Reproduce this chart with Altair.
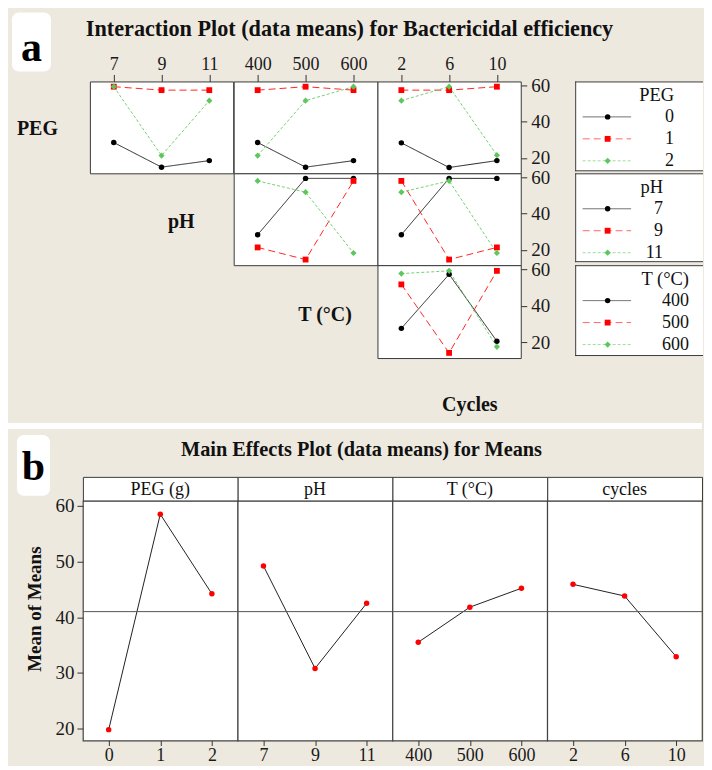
import altair as alt
import pandas as pd

# ---------------- data ----------------
peg_levels = [0, 1, 2]
ph_levels = [7, 9, 11]
t_levels = [400, 500, 600]
cycle_levels = [2, 6, 10]

# interaction plot: means of the row factor (lines) at each level of the column factor (x)
peg_vs_ph = {"0": [28.5, 14.9, 18.5], "1": [59.3, 57.4, 57.4], "2": [59.3, 21.3, 51.6]}
peg_vs_t = {"0": [28.5, 14.9, 18.5], "1": [57.4, 59.3, 57.4], "2": [21.3, 51.6, 59.3]}
peg_vs_cycles = {"0": [28.3, 14.7, 18.5], "1": [57.4, 57.4, 59.3], "2": [51.6, 59.3, 21.5]}
ph_vs_t = {"7": [28.3, 59.4, 59.4], "9": [21.3, 14.6, 58.0], "11": [58.0, 51.8, 18.2]}
ph_vs_cycles = {"7": [28.3, 59.4, 59.4], "9": [58.0, 14.6, 21.3], "11": [51.8, 58.0, 18.2]}
t_vs_cycles = {"400": [27.7, 57.2, 20.7], "500": [51.7, 14.3, 59.1], "600": [57.6, 59.1, 17.6]}

# main effects plot
main_factors = ["PEG (g)", "pH", "T (°C)", "cycles"]
peg_means = [19.8, 58.5, 44.2]
ph_means = [49.2, 30.8, 42.5]
t_means = [35.5, 41.8, 45.2]
cycle_means = [45.9, 43.8, 32.9]
grand_mean = [41.0]

title_a = "Interaction Plot (data means) for Bactericidal efficiency"
title_b = "Main Effects Plot (data means) for Means"
row_names = ["PEG", "pH", "T (°C)", "Cycles"]
legend_titles = ["PEG", "pH", "T (°C)"]

# ---------------- style ----------------
SERIF = "Liberation Serif"
BEIGE = "#EEE9DF"
BOX = "#3a3a3a"
MARK_COLORS = ["#000000", "#ff0000", "#5cc85c"]
DASHES = [[1, 0], [7, 4], [3, 2]]
SHAPES = ["circle", "square", "diamond"]
SIZES = [30, 38, 46]
A_DOMAIN = [11.5, 62.2]
B_DOMAIN = [17.85, 60.9]
one = pd.DataFrame({"_": [0]})


def cell_view():
    return alt.ViewBackground(fill="white", stroke=BOX, strokeWidth=1)


def blank(w, h, label="", dx=0, dy=0, solid=False):
    ch = alt.Chart(pd.DataFrame({"t": [label]})).mark_text(
        fontSize=20, fontWeight="bold", color="#111"
    ).encode(x=alt.value(dx), y=alt.value(dy if label else 30), text="t:N")
    if solid:
        return ch.properties(width=w, height=h, view=alt.ViewBackground(fill=BEIGE, stroke=None))
    return ch.properties(width=w, height=h)


def corner(w, h, top, box, letter_xy, title, title_xy, title_size, label="", label_xy=(0, 0)):
    """Top-left cell of a panel: carries the panel letter, its white box and the panel title."""
    layers = [
        alt.Chart(one).mark_rect(color=BEIGE).encode(
            x=alt.value(0), x2=alt.value(w), y=alt.value(-top), y2=alt.value(0)),
        alt.Chart(one).mark_rect(color="white", cornerRadius=7).encode(
            x=alt.value(box[0]), x2=alt.value(box[1]), y=alt.value(box[2]), y2=alt.value(box[3])),
        alt.Chart(one).mark_text(fontSize=42, fontWeight="bold", baseline="alphabetic", color="#000").encode(
            x=alt.value(letter_xy[0]), y=alt.value(letter_xy[1]), text=alt.value(letter_xy[2])),
        alt.Chart(one).mark_text(fontSize=title_size, fontWeight="bold", color="#111").encode(
            x=alt.value(title_xy[0]), y=alt.value(title_xy[1]), text=alt.value(title)),
    ]
    if label:
        layers.append(alt.Chart(one).mark_text(fontSize=20, fontWeight="bold", color="#111").encode(
            x=alt.value(label_xy[0]), y=alt.value(label_xy[1]), text=alt.value(label)))
    return alt.layer(*layers).properties(width=w, height=h,
                                         view=alt.ViewBackground(fill=BEIGE, stroke=None))


def interaction_panel(table, x_levels, w, h, top_axis=False, right_axis=False):
    recs = []
    for k, key in enumerate(table.keys()):
        for xv, yv in zip(x_levels, table[key]):
            recs.append({"k": k, "x": xv, "y": yv})
    df = pd.DataFrame(recs)
    xax = alt.Axis(orient="top", title=None, labelAngle=0, tickSize=7, domain=False,
                   labelFontSize=18, labelPadding=1, grid=False) if top_axis else None
    yax = alt.Axis(orient="right", title=None, values=[20, 40, 60], tickSize=6, domain=False,
                   grid=False, labelFontSize=19, labelPadding=4) if right_axis else None
    x = alt.X("x:O", scale=alt.Scale(type="point", domain=x_levels, padding=0.5), axis=xax)
    y = alt.Y("y:Q", scale=alt.Scale(domain=A_DOMAIN, nice=False, zero=False), axis=yax)
    color = alt.Color("k:O", scale=alt.Scale(domain=[0, 1, 2], range=MARK_COLORS), legend=None)
    base = alt.Chart(df)
    lines = base.mark_line(strokeWidth=1, opacity=0.85).encode(
        x=x, y=y, color=color,
        strokeDash=alt.StrokeDash("k:O", scale=alt.Scale(domain=[0, 1, 2], range=DASHES), legend=None),
        detail="k:O")
    pts = base.mark_point(filled=True, opacity=1).encode(
        x=x, y=y, color=color,
        shape=alt.Shape("k:O", scale=alt.Scale(domain=[0, 1, 2], range=SHAPES), legend=None),
        size=alt.Size("k:O", scale=alt.Scale(domain=[0, 1, 2], range=SIZES), legend=None))
    return alt.layer(lines, pts).properties(width=w, height=h, view=cell_view())


def legend_box(title, labels, right_x, w, h):
    df = pd.DataFrame({"k": list(range(len(labels))), "label": labels})
    yenc = alt.Y("k:O", scale=alt.Scale(type="point", domain=[0, 1, 2], range=[35.5, 79.5], padding=0), axis=None)
    color = alt.Color("k:O", scale=alt.Scale(domain=[0, 1, 2], range=MARK_COLORS), legend=None)
    base = alt.Chart(df)
    # box open on the right: it runs off the edge of the figure, as in the original
    borders = [
        alt.Chart(one).mark_rule(color=BOX, strokeWidth=1).encode(
            x=alt.value(0.5), y=alt.value(0), y2=alt.value(h)),
        alt.Chart(one).mark_rule(color=BOX, strokeWidth=1).encode(
            y=alt.value(0.5), x=alt.value(0), x2=alt.value(w)),
        alt.Chart(one).mark_rule(color=BOX, strokeWidth=1).encode(
            y=alt.value(h - 0.5), x=alt.value(0), x2=alt.value(w)),
    ]
    rule = base.mark_rule(strokeWidth=1, opacity=0.6).encode(
        x=alt.value(7.5), x2=alt.value(56), y=yenc, color=color,
        strokeDash=alt.StrokeDash("k:O", scale=alt.Scale(domain=[0, 1, 2], range=DASHES), legend=None))
    pts = base.mark_point(filled=True, opacity=1).encode(
        x=alt.value(32.5), y=yenc, color=color,
        shape=alt.Shape("k:O", scale=alt.Scale(domain=[0, 1, 2], range=SHAPES), legend=None),
        size=alt.Size("k:O", scale=alt.Scale(domain=[0, 1, 2], range=SIZES), legend=None))
    txt = base.mark_text(align="right", fontSize=18, color="#111").encode(
        x=alt.value(right_x), y=yenc, text="label:N")
    ttl = alt.Chart(one).mark_text(align="right", fontSize=18.5, color="#111").encode(
        x=alt.value(right_x), y=alt.value(14), text=alt.value(title))
    return alt.layer(*borders, rule, pts, txt, ttl).properties(
        width=w, height=h, view=alt.ViewBackground(fill="white", stroke=None))


# ---------------- panel a ----------------
W0, W1, W2, W3, WG, WL = 82, 143.5, 144, 143.5, 54, 128
H1, H2, H3, H4 = 92, 92, 93, 62

cells_a = [
    corner(W0, H1, 73, (4, 43, -69, -10), (23.5, -20, "a"), title_a, (342, -53), 22.25,
           label=row_names[0], label_xy=(29.5, 48)),
    interaction_panel(peg_vs_ph, ph_levels, W1, H1, top_axis=True),
    interaction_panel(peg_vs_t, t_levels, W2, H1, top_axis=True),
    interaction_panel(peg_vs_cycles, cycle_levels, W3, H1, top_axis=True, right_axis=True),
    blank(WG, H1),
    legend_box(legend_titles[0], [str(v) for v in peg_levels], 99, WL, 90),

    blank(W0, H2, solid=True),
    blank(W1, H2, row_names[1], 91.5, 49),
    interaction_panel(ph_vs_t, t_levels, W2, H2),
    interaction_panel(ph_vs_cycles, cycle_levels, W3, H2, right_axis=True),
    blank(WG, H2),
    legend_box(legend_titles[1], [str(v) for v in ph_levels], 88, WL, 89),

    blank(W0, H3, solid=True),
    blank(W1, H3),
    blank(W2, H3, row_names[2], 91.5, 50),
    interaction_panel(t_vs_cycles, cycle_levels, W3, H3, right_axis=True),
    blank(WG, H3),
    legend_box(legend_titles[2], [str(v) for v in t_levels], 114, WL, 91),

    blank(W0, H4, solid=True),
    blank(W1, H4),
    blank(W2, H4),
    blank(W3, H4, row_names[3], 92.5, 47),
    blank(WG, H4),
    blank(WL, H4, solid=True),
]
grid_a = alt.concat(*cells_a, columns=6, spacing=0, bounds="flush").resolve_scale(
    x="independent", y="independent", color="independent",
    shape="independent", size="independent", strokeDash="independent")

separator = alt.Chart(pd.DataFrame({"t": [""]})).mark_text().encode(
    text="t:N", y=alt.value(3)).properties(
    width=695, height=6, view=alt.ViewBackground(fill="white", stroke=None))

# ---------------- panel b ----------------
PW, PH, SW, HB = 155, 240, 75, 24


def header_box(name):
    return alt.Chart(pd.DataFrame({"t": [name]})).mark_text(fontSize=18, color="#111").encode(
        x=alt.value(PW / 2), y=alt.value(HB / 2 + 1), text="t:N"
    ).properties(width=PW, height=HB, view=cell_view())


def main_panel(levels, means, first=False):
    df = pd.DataFrame({"x": levels, "y": means})
    x = alt.X("x:O", scale=alt.Scale(type="point", domain=levels, padding=0.5),
              axis=alt.Axis(title=None, labelAngle=0, tickSize=5, domain=False, grid=False,
                            labelFontSize=18, labelPadding=1))
    yax = alt.Axis(title="Mean of Means", values=[20, 30, 40, 50, 60], tickSize=6, domain=False,
                   grid=False, labelFontSize=19, labelPadding=3, titleFontSize=19,
                   titleFontWeight="bold", titlePadding=10, titleY=108) if first else None
    y = alt.Y("y:Q", scale=alt.Scale(domain=B_DOMAIN, nice=False, zero=False), axis=yax)
    line = alt.Chart(df).mark_line(color="#222", strokeWidth=1).encode(x=x, y=y)
    ref = alt.Chart(pd.DataFrame({"y": grand_mean})).mark_rule(color="#555", strokeWidth=1).encode(y=y)
    pts = alt.Chart(df).mark_circle(color="#ff0000", size=30, opacity=1).encode(x=x, y=y)
    return alt.layer(line, ref, pts).properties(
        width=PW, height=PH, view=alt.ViewBackground(fill="white", stroke="#444", strokeWidth=1.2))


cells_b = [corner(SW, HB, 46, (9, 42, -42, 19), (25.5, 3, "b"), title_b, (354, -27), 20.3)] + \
    [header_box(n) for n in main_factors] + [
    blank(SW, PH, solid=True),
    main_panel(peg_levels, peg_means, first=True),
    main_panel(ph_levels, ph_means),
    main_panel(t_levels, t_means),
    main_panel(cycle_levels, cycle_means),
]
grid_b = alt.concat(*cells_b, columns=5, spacing=0, bounds="flush").resolve_scale(
    x="independent", y="independent")

chart = alt.vconcat(grid_a, separator, grid_b, spacing=0).properties(
    padding=0
).configure(font=SERIF, background=BEIGE).configure_view(stroke=None).configure_axis(
    labelFont=SERIF, titleFont=SERIF, labelColor="#1a1a1a", titleColor="#111", tickColor="#333"
).configure_text(font=SERIF)

chart.save("out.html", embed_options={"renderer": "svg", "actions": False})
